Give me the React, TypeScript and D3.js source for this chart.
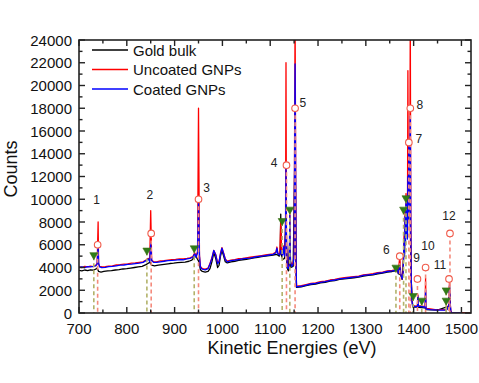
import React from 'react';
import * as d3 from 'd3';

// spectra: [kinetic energy (eV), counts]
const goldBulk: [number, number][] = [
  [700, 3750], [706, 3700], [712, 3780], [718, 3720], [724, 3800], [730, 3760], [735, 3850], [738, 3950],
  [741, 3650], [746, 3600], [752, 3650], [760, 3700], [768, 3720], [776, 3780], [784, 3820], [792, 3870],
  [800, 3900], [808, 3950], [816, 4000], [824, 4050], [832, 4100], [840, 4250], [845, 4380], [849, 4450],
  [852, 4200], [858, 4150], [866, 4200], [874, 4250], [882, 4300], [890, 4350], [898, 4380], [906, 4420],
  [914, 4450], [922, 4480], [930, 4550], [936, 4650], [941, 4900], [944, 5000], [947, 4800], [951, 4500],
  [954, 3800], [958, 3650], [964, 3600], [970, 3650], [974, 3900], [978, 4500], [982, 5300], [986, 4800],
  [990, 4000], [993, 4200], [996, 5000], [999, 5500], [1002, 5100], [1006, 4500], [1010, 4400], [1018, 4500],
  [1026, 4550], [1034, 4620], [1042, 4680], [1050, 4720], [1058, 4780], [1066, 4850], [1074, 4900], [1082, 4950],
  [1090, 5000], [1098, 5050], [1106, 5100], [1114, 5150], [1119, 5000], [1121, 5300], [1122, 8700], [1123, 5200],
  [1126, 4700], [1130, 4800], [1133, 9000], [1135, 4000], [1138, 3700], [1141, 6500], [1143, 4000], [1148, 4100],
  [1152, 15000], [1154, 4000], [1155, 2250], [1165, 2300], [1175, 2400], [1185, 2500], [1195, 2550], [1205, 2650],
  [1215, 2700], [1225, 2800], [1235, 2850], [1245, 2950], [1255, 3000], [1265, 3050], [1275, 3100], [1285, 3150],
  [1295, 3250], [1305, 3300], [1315, 3350], [1325, 3450], [1335, 3500], [1345, 3600], [1355, 3650], [1362, 3700],
  [1366, 3800], [1368, 3450], [1373, 3350], [1376, 2950], [1380, 5500], [1384, 8000], [1388, 9000], [1392, 10000],
  [1395, 2800], [1398, 550], [1410, 500], [1424, 450], [1426, 300], [1450, 250], [1474, 600], [1475, 2000],
  [1477, 100], [1480, 0], [1500, 0],
];

const uncoatedGNPs: [number, number][] = [
  [700, 4050], [706, 4000], [712, 4100], [718, 4050], [724, 4120], [730, 4080], [735, 4200], [738, 4350],
  [740, 8000], [741, 4300], [743, 4100], [748, 4050], [755, 4080], [762, 4120], [770, 4150], [778, 4220],
  [786, 4250], [794, 4300], [802, 4320], [810, 4380], [818, 4400], [826, 4450], [834, 4500], [840, 4650],
  [845, 4800], [848, 4600], [850, 9000], [852, 4650], [856, 4500], [862, 4500], [870, 4580], [878, 4600],
  [886, 4650], [894, 4700], [902, 4720], [910, 4750], [918, 4750], [926, 4800], [932, 4850], [938, 4950],
  [942, 5300], [945, 5000], [948, 5400], [950, 18000], [952, 5100], [954, 4100], [958, 3900], [964, 3850],
  [970, 3950], [974, 4350], [978, 4850], [982, 5500], [986, 5150], [990, 4400], [993, 4550], [996, 5250],
  [999, 5750], [1002, 5350], [1006, 4750], [1010, 4550], [1018, 4650], [1026, 4700], [1034, 4780], [1042, 4800],
  [1050, 4850], [1058, 4900], [1066, 4950], [1074, 5000], [1082, 5050], [1090, 5100], [1098, 5150], [1106, 5200],
  [1112, 5350], [1114, 5800], [1116, 5250], [1120, 5150], [1122, 8000], [1124, 5250], [1126, 5150], [1128, 5900],
  [1130, 5050], [1132, 7000], [1133, 22000], [1134, 6000], [1136, 4100], [1138, 3950], [1140, 4300], [1141, 9200],
  [1142, 4600], [1145, 4200], [1148, 4400], [1150, 5100], [1152, 26000], [1154, 4600], [1155, 2350], [1165, 2400],
  [1175, 2500], [1185, 2600], [1195, 2650], [1205, 2750], [1215, 2800], [1225, 2900], [1235, 2950], [1245, 3050],
  [1255, 3100], [1265, 3150], [1275, 3200], [1285, 3250], [1295, 3350], [1305, 3400], [1315, 3450], [1325, 3550],
  [1335, 3600], [1345, 3700], [1355, 3750], [1362, 3800], [1366, 3900], [1368, 3550], [1371, 5000], [1373, 3450],
  [1376, 3000], [1378, 3600], [1380, 7000], [1381, 5200], [1382, 9000], [1383, 6500], [1384, 10500], [1385, 7500],
  [1386, 10000], [1387, 7000], [1388, 21300], [1389, 9000], [1390, 15000], [1391, 10000], [1392, 13000], [1393, 26000],
  [1394, 8500], [1395, 3200], [1396, 1300], [1398, 650], [1405, 600], [1408, 650], [1409, 1600], [1410, 650],
  [1418, 600], [1424, 550], [1425, 3050], [1426, 400], [1435, 350], [1445, 300], [1455, 300], [1465, 280],
  [1470, 350], [1474, 800], [1475, 2900], [1476, 1100], [1478, 150], [1480, 30], [1500, 30], [1520, 30],
];

const coatedGNPs: [number, number][] = [
  [700, 4000], [706, 4050], [712, 3980], [718, 4080], [724, 4050], [730, 4100], [735, 4150], [738, 4300],
  [740, 6000], [741, 4400], [743, 4050], [748, 3980], [755, 4020], [762, 4080], [770, 4100], [778, 4150],
  [786, 4200], [794, 4220], [802, 4280], [810, 4300], [818, 4350], [826, 4380], [834, 4450], [840, 4600],
  [845, 4750], [848, 4500], [850, 6100], [852, 4600], [856, 4450], [862, 4450], [870, 4500], [878, 4550],
  [886, 4600], [894, 4620], [902, 4650], [910, 4700], [918, 4680], [926, 4750], [932, 4800], [938, 4900],
  [942, 5200], [945, 4900], [948, 5300], [950, 10000], [952, 5000], [954, 4000], [958, 3850], [964, 3800],
  [970, 3900], [974, 4300], [978, 4800], [982, 5500], [986, 5100], [990, 4350], [993, 4500], [996, 5200],
  [999, 5700], [1002, 5300], [1006, 4700], [1010, 4500], [1018, 4600], [1026, 4650], [1034, 4700], [1042, 4750],
  [1050, 4800], [1058, 4820], [1066, 4900], [1074, 4950], [1082, 5000], [1090, 5050], [1098, 5100], [1106, 5150],
  [1112, 5300], [1114, 5700], [1116, 5200], [1120, 5100], [1122, 5500], [1124, 5200], [1126, 5100], [1128, 5800],
  [1130, 5000], [1132, 7000], [1133, 13000], [1134, 6000], [1136, 4000], [1138, 3900], [1140, 4200], [1141, 8600],
  [1142, 4500], [1145, 4100], [1148, 4300], [1150, 5000], [1152, 21900], [1154, 4500], [1155, 2300], [1165, 2350],
  [1175, 2450], [1185, 2550], [1195, 2600], [1205, 2700], [1215, 2750], [1225, 2850], [1235, 2900], [1245, 3000],
  [1255, 3050], [1265, 3100], [1275, 3150], [1285, 3200], [1295, 3300], [1305, 3350], [1315, 3400], [1325, 3500],
  [1335, 3550], [1345, 3650], [1355, 3700], [1362, 3750], [1366, 3850], [1368, 3500], [1371, 4200], [1373, 3400],
  [1376, 3000], [1378, 3500], [1380, 6500], [1381, 5000], [1382, 8500], [1383, 6000], [1384, 10000], [1385, 7000],
  [1386, 9500], [1387, 6500], [1388, 12000], [1389, 8000], [1390, 15000], [1391, 9000], [1392, 12000], [1393, 17300],
  [1394, 8000], [1395, 3000], [1396, 1200], [1398, 600], [1405, 550], [1408, 600], [1409, 1500], [1410, 600],
  [1418, 550], [1424, 500], [1425, 2000], [1426, 350], [1435, 300], [1445, 280], [1455, 260], [1465, 250],
  [1470, 300], [1474, 700], [1475, 2400], [1476, 1000], [1478, 100], [1480, 0], [1500, 0],
];

// green triangles (reference lines)
const triangleMarks: [number, number][] = [
  [731, 5000], [842, 5400], [941, 5600], [1125, 8000], [1141, 9000], [1363, 3900],
  [1379, 9000], [1384, 10000], [1399, 1400], [1417, 1000], [1468, 1900], [1468, 1000],
];

// numbered open circles: [energy, counts]
const circleMarks: [number, number][] = [
  [739, 6000], [851, 7000], [950, 10000], [1134, 13000], [1152, 18000], [1371, 5000],
  [1390, 15000], [1393, 18000], [1408, 3000], [1425, 4000], [1474, 3000], [1476, 7000],
];
const circleLabels = ['1', '2', '3', '4', '5', '6', '7', '8', '9', '10', '11', '12'];
// label anchors in data units
const labelAnchors: [number, number][] = [
  [737, 9900], [848, 10400], [967, 11000], [1108, 13200], [1168, 18500], [1343, 5500],
  [1411, 15300], [1413, 18300], [1406, 4800], [1430, 5900], [1455, 4200], [1474, 8500],
];

const xTicks = [700, 800, 900, 1000, 1100, 1200, 1300, 1400, 1500];
const xMinor = [750, 850, 950, 1050, 1150, 1250, 1350, 1450];
const yTicks = [0, 2000, 4000, 6000, 8000, 10000, 12000, 14000, 16000, 18000, 20000, 22000, 24000];
const yMinor = [1000, 3000, 5000, 7000, 9000, 11000, 13000, 15000, 17000, 19000, 21000, 23000];

const seriesNames = ['Gold bulk', 'Uncoated GNPs', 'Coated GNPs'];
const seriesColors = ['#000000', '#ff0000', '#0000ff'];

export default function App() {
  const W = 479, H = 383;
  const left = 79, right = 471, top = 40, bottom = 313;
  const x = d3.scaleLinear().domain([700, 1520]).range([left, right]);
  const y = d3.scaleLinear().domain([0, 24000]).range([bottom, top]);
  const line = d3.line<[number, number]>().x(d => x(d[0])).y(d => y(d[1]));
  const font = 'Arial, "Liberation Sans", sans-serif';
  const series = [goldBulk, uncoatedGNPs, coatedGNPs];
  const major = 6, minor = 3.5;

  return (
    <div style={{ position: 'fixed', left: 0, top: 0, width: W, height: H, background: '#fff' }}>
      <svg width={W} height={H} style={{ display: 'block' }} fontFamily={font}>
        <defs>
          <clipPath id="plot">
            <rect x={left} y={top} width={right - left} height={bottom - top} />
          </clipPath>
        </defs>

        <g clipPath="url(#plot)">
          {series.map((s, i) => (
            <path key={i} d={line(s) || ''} fill="none" stroke={seriesColors[i]} strokeWidth={1.3} strokeLinejoin="round" />
          ))}
          {triangleMarks.map((t, i) => (
            <line key={'td' + i} x1={x(t[0])} x2={x(t[0])} y1={y(t[1])} y2={bottom} stroke="#b2b26a" strokeWidth={1.6} strokeDasharray="4,3" />
          ))}
          {circleMarks.map((c, i) => (
            <line key={'cd' + i} x1={x(c[0])} x2={x(c[0])} y1={y(c[1])} y2={bottom} stroke="#f48a7c" strokeWidth={1.6} strokeDasharray="4,3" />
          ))}
          {triangleMarks.map((t, i) => {
            const cx = x(t[0]), cy = y(t[1]);
            return <path key={'t' + i} d={`M${cx - 4},${cy - 3.5}L${cx + 4},${cy - 3.5}L${cx},${cy + 3.5}Z`} fill="#2e7d18" stroke="#3d6b10" strokeWidth={0.6} />;
          })}
          {circleMarks.map((c, i) => (
            <circle key={'c' + i} cx={x(c[0])} cy={y(c[1])} r={3.3} fill="#fff" stroke="#f05a4a" strokeWidth={1.1} />
          ))}
        </g>

        {labelAnchors.map((a, i) => (
          <text key={'l' + i} x={x(a[0])} y={y(a[1])} fontSize={12} fill="#222" textAnchor="middle" dominantBaseline="central">{circleLabels[i]}</text>
        ))}

        {/* frame */}
        <rect x={left} y={top} width={right - left} height={bottom - top} fill="none" stroke="#222" strokeWidth={1.6} />

        {/* x ticks (bottom and top, inward) */}
        {xTicks.map(t => (
          <g key={'x' + t}>
            <line x1={x(t)} x2={x(t)} y1={bottom} y2={bottom - major} stroke="#222" strokeWidth={1.4} />
            <line x1={x(t)} x2={x(t)} y1={top} y2={top + major} stroke="#222" strokeWidth={1.4} />
            <text x={x(t)} y={bottom + 21} fontSize={15} textAnchor="middle" fill="#111">{t}</text>
          </g>
        ))}
        {xMinor.map(t => (
          <g key={'xm' + t}>
            <line x1={x(t)} x2={x(t)} y1={bottom} y2={bottom - minor} stroke="#222" strokeWidth={1.4} />
            <line x1={x(t)} x2={x(t)} y1={top} y2={top + minor} stroke="#222" strokeWidth={1.4} />
          </g>
        ))}

        {/* y ticks (left and right, inward) */}
        {yTicks.map(t => (
          <g key={'y' + t}>
            <line x1={left} x2={left + major} y1={y(t)} y2={y(t)} stroke="#222" strokeWidth={1.4} />
            <line x1={right} x2={right - major} y1={y(t)} y2={y(t)} stroke="#222" strokeWidth={1.4} />
            <text x={left - 7} y={y(t)} fontSize={15} textAnchor="end" dominantBaseline="central" fill="#111">{t}</text>
          </g>
        ))}
        {yMinor.map(t => (
          <g key={'ym' + t}>
            <line x1={left} x2={left + minor} y1={y(t)} y2={y(t)} stroke="#222" strokeWidth={1.4} />
            <line x1={right} x2={right - minor} y1={y(t)} y2={y(t)} stroke="#222" strokeWidth={1.4} />
          </g>
        ))}

        {/* axis titles */}
        <text x={(left + right) / 2 + 17} y={354} fontSize={18} textAnchor="middle" fill="#111">Kinetic Energies (eV)</text>
        <text transform={`translate(17,169) rotate(-90)`} fontSize={18} textAnchor="middle" fill="#111">Counts</text>

        {/* legend */}
        {seriesNames.map((n, i) => (
          <g key={n} transform={`translate(92,${50 + i * 19.5})`}>
            <line x1={0} x2={36} y1={0} y2={0} stroke={seriesColors[i]} strokeWidth={1.5} />
            <text x={41} y={0} fontSize={15} dominantBaseline="central" fill="#111">{n}</text>
          </g>
        ))}
      </svg>
    </div>
  );
}
